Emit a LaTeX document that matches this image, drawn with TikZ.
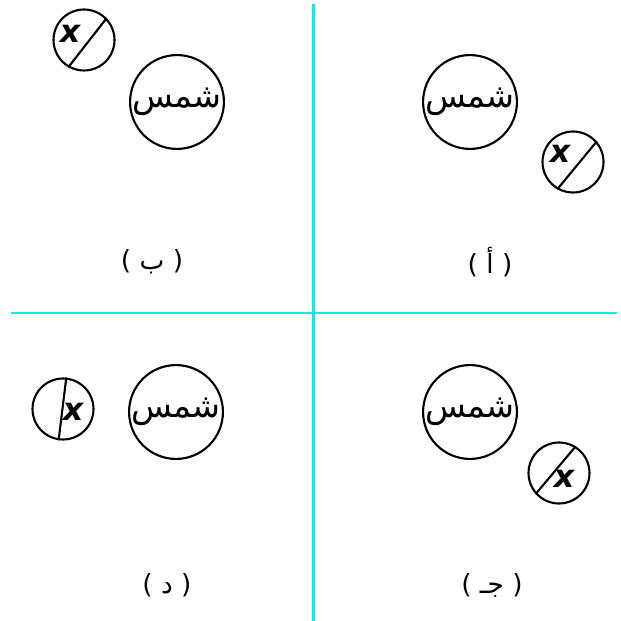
\documentclass[tikz,border=0pt]{standalone}
\usepackage{fontspec}
\newfontfamily\arabicfont[Script=Arabic]{DejaVu Sans}
\newfontfamily\xfont{DejaVu Sans}
\TeXXeTstate=1
\definecolor{figC}{RGB}{0,238,238}

\tikzset{
  sun/.style={draw,circle,line width=1.2pt,inner sep=0pt,minimum size=1.84cm,
    font=\arabicfont\fontsize{19}{20}\selectfont},
  moon/.style={draw,circle,line width=1.2pt,inner sep=0pt,minimum size=1.22cm},
  chord/.style={line width=1.2pt},
  xmark/.style={inner sep=0pt,font=\xfont\bfseries\itshape\fontsize{18}{18}\selectfont},
  tag/.style={font=\arabicfont\fontsize{15}{18}\selectfont}
}

\begin{document}
\begin{tikzpicture}[x=0.02cm,y=-0.02cm]
\useasboundingbox (0,0) rectangle (620,621);
% axes
\draw[figC,line width=1.7pt] (313,4)--(313,621);
\draw[figC,line width=1.7pt] (11,313)--(617,313);
% (a)
\node[sun] (sunA) at (470,102) {\beginR شمس\endR};
\node[moon] (moonA) at (573,162) {};
\draw[chord] (moonA.41)--(moonA.-120);
\node[xmark,xshift=-0.26cm,yshift=0.16cm] at (moonA) {x};
\node[tag] (tagA) at (490,262) {\beginR( أ )\endR};
% (b)
\node[sun] (sunB) at (177,102) {\beginR شمس\endR};
\node[moon] (moonB) at (84,40) {};
\draw[chord] (moonB.44)--(moonB.-120);
\node[xmark,xshift=-0.28cm,yshift=0.12cm] at (moonB) {x};
\node[tag] (tagB) at (152,262) {\beginR( ب )\endR};
% (c)
\node[sun] (sunC) at (470,412) {\beginR شمس\endR};
\node[moon] (moonC) at (559,473) {};
\draw[chord] (moonC.58)--(moonC.-138);
\node[xmark,xshift=0.1cm,yshift=-0.12cm] at (moonC) {x};
\node[tag] (tagC) at (492,585) {\beginR( جـ )\endR};
% (d)
\node[sun] (sunD) at (176,412) {\beginR شمس\endR};
\node[moon] (moonD) at (63,409) {};
\draw[chord] (moonD.84)--(moonD.-98);
\node[xmark,xshift=0.2cm,yshift=-0.06cm] at (moonD) {x};
\node[tag] (tagD) at (167,585) {\beginR( د )\endR};
\end{tikzpicture}
\end{document}
